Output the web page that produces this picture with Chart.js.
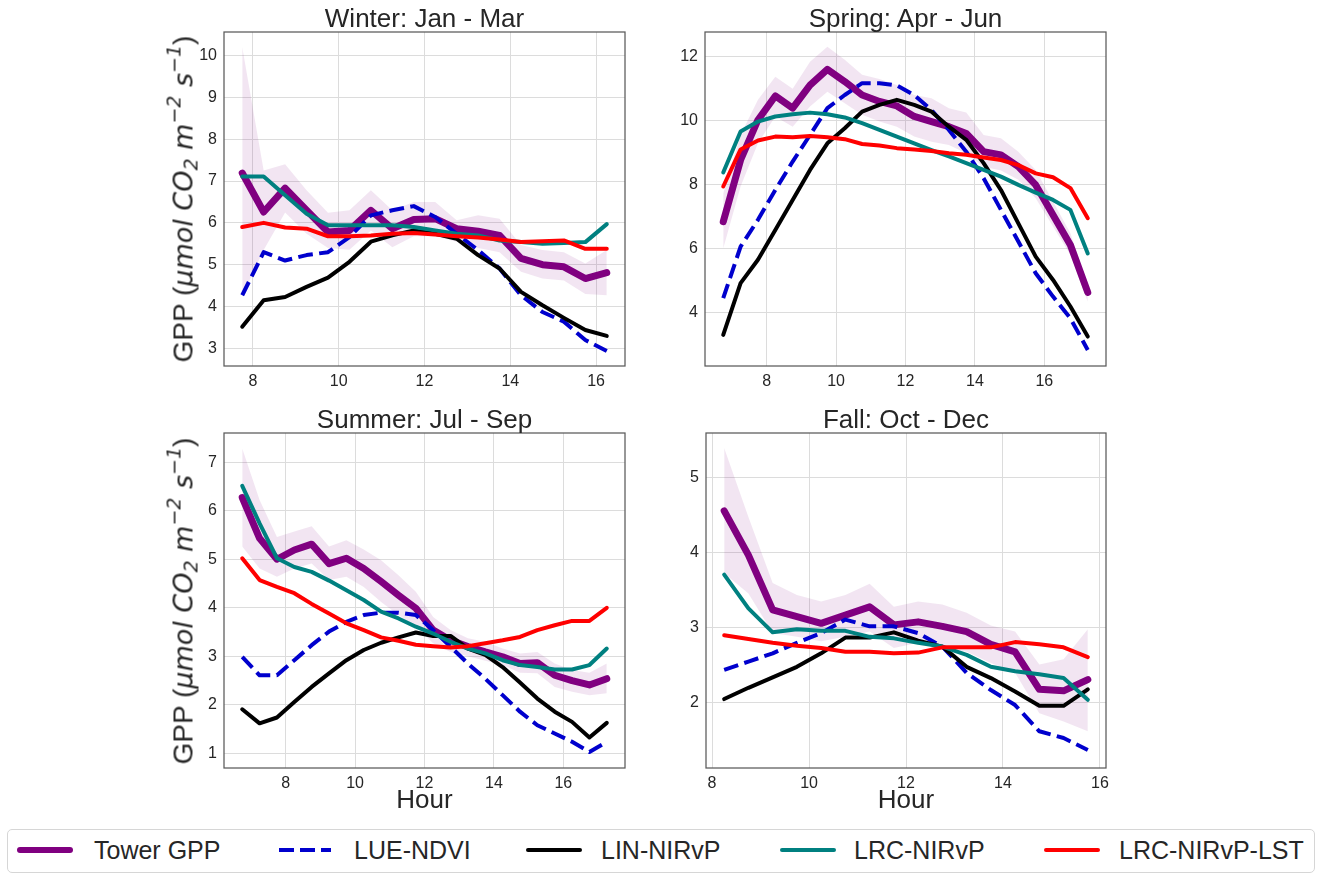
<!DOCTYPE html>
<html>
<head>
<meta charset="utf-8">
<title>Diurnal GPP by season</title>
<script src="https://cdn.jsdelivr.net/npm/chart.js@4.4.1/dist/chart.umd.min.js"></script>
<style>
  html, body { margin: 0; padding: 0; background: #fff; }
  #fig { position: relative; width: 1324px; height: 874px; overflow: hidden;
         font-family: "Liberation Sans", Arial, sans-serif; color: #262626; }
  canvas { position: absolute; }
  .ttl, .xlab { position: absolute; font-size: 26px; line-height: 26px; white-space: nowrap; transform: translateX(-50%); }
  .ylab { position: absolute; font-size: 28px; line-height: 28px; white-space: nowrap;
          transform: translate(-50%, -50%) rotate(-90deg); }
  .ylab i { font-family: "DejaVu Sans", sans-serif; font-style: oblique; font-size: 27px; }
  .ylab .sb { font-size: 19px; vertical-align: -5px; }
  .ylab .sp { font-size: 19px; vertical-align: 12px; }
  #legend { position: absolute; left: 7px; top: 829px; width: 1306px; height: 42px;
            border: 1px solid #d6d6d6; border-radius: 5px; }
  .swatch { position: absolute; }
  .ltxt { position: absolute; font-size: 25px; line-height: 25px; white-space: nowrap; }
</style>
</head>
<body>
<div id="fig">
  <div id="legend"></div>
</div>
<script>
// ---- data: hourly mean GPP per season ----
const seriesNames = ['Tower GPP', 'LUE-NDVI', 'LIN-NIRvP', 'LRC-NIRvP', 'LRC-NIRvP-LST'];

const winterHours = [7.75, 8.25, 8.75, 9.25, 9.75, 10.25, 10.75, 11.25, 11.75, 12.25, 12.75, 13.25, 13.75, 14.25, 14.75, 15.25, 15.75, 16.25];
const winterTower = [7.19, 6.26, 6.83, 6.3, 5.78, 5.82, 6.3, 5.86, 6.08, 6.1, 5.86, 5.8, 5.7, 5.15, 5.0, 4.95, 4.67, 4.81];
const winterUpper = [10.2, 7.25, 7.4, 6.78, 6.24, 6.3, 6.78, 6.3, 6.5, 6.5, 6.06, 6.18, 6.1, 5.47, 5.35, 5.3, 5.03, 5.35];
const winterLower = [4.25, 5.35, 6.25, 5.74, 5.4, 5.36, 5.82, 5.42, 5.68, 5.68, 5.55, 5.4, 5.3, 4.83, 4.67, 4.62, 4.3, 4.27];
const winterLue = [4.27, 5.3, 5.1, 5.23, 5.3, 5.66, 6.18, 6.3, 6.4, 6.14, 5.74, 5.35, 4.91, 4.27, 3.87, 3.64, 3.2, 2.94];
const winterLin = [3.52, 4.15, 4.23, 4.47, 4.69, 5.07, 5.55, 5.7, 5.82, 5.74, 5.62, 5.23, 4.91, 4.35, 4.03, 3.73, 3.44, 3.3];
const winterLrc = [7.11, 7.11, 6.66, 6.22, 5.94, 5.94, 5.94, 5.94, 5.9, 5.82, 5.74, 5.7, 5.58, 5.54, 5.5, 5.52, 5.54, 5.97];
const winterLst = [5.9, 6.0, 5.89, 5.86, 5.68, 5.68, 5.7, 5.74, 5.76, 5.72, 5.68, 5.65, 5.6, 5.54, 5.56, 5.58, 5.38, 5.38];

const springHours = [6.75, 7.25, 7.75, 8.25, 8.75, 9.25, 9.75, 10.25, 10.75, 11.25, 11.75, 12.25, 12.75, 13.25, 13.75, 14.25, 14.75, 15.25, 15.75, 16.25, 16.75, 17.25];
const springTower = [6.84, 8.77, 10.02, 10.77, 10.39, 11.11, 11.6, 11.22, 10.8, 10.6, 10.46, 10.13, 9.97, 9.81, 9.6, 9.03, 8.93, 8.56, 7.99, 7.05, 6.11, 4.63];
const springUpper = [7.73, 9.55, 10.65, 11.37, 11.0, 11.84, 12.31, 11.9, 11.43, 11.3, 11.11, 10.8, 10.7, 10.39, 10.25, 9.55, 9.45, 9.03, 8.46, 7.47, 6.48, 4.81];
const springLower = [6.0, 7.94, 9.29, 10.13, 9.81, 10.44, 10.9, 10.54, 10.18, 9.97, 9.81, 9.5, 9.34, 9.24, 8.98, 8.56, 8.44, 8.15, 7.57, 6.69, 5.8, 4.34];
const springLue = [4.45, 6.06, 6.9, 7.83, 8.72, 9.55, 10.39, 10.8, 11.17, 11.17, 11.1, 10.8, 10.33, 9.71, 9.03, 8.2, 7.21, 6.22, 5.23, 4.5, 3.82, 2.83];
const springLin = [3.3, 4.92, 5.65, 6.58, 7.52, 8.46, 9.29, 9.76, 10.28, 10.49, 10.65, 10.49, 10.28, 9.81, 9.4, 8.67, 7.83, 6.79, 5.75, 5.02, 4.19, 3.25];
const springLrc = [8.38, 9.66, 9.97, 10.13, 10.2, 10.25, 10.2, 10.1, 9.92, 9.71, 9.5, 9.29, 9.08, 8.88, 8.67, 8.46, 8.25, 7.99, 7.75, 7.52, 7.21, 5.85];
const springLst = [7.94, 9.1, 9.38, 9.5, 9.48, 9.52, 9.48, 9.42, 9.27, 9.22, 9.14, 9.1, 9.05, 8.98, 8.93, 8.85, 8.77, 8.61, 8.35, 8.23, 7.89, 6.95];

const summerHours = [6.75, 7.25, 7.75, 8.25, 8.75, 9.25, 9.75, 10.25, 10.75, 11.25, 11.75, 12.25, 12.75, 13.25, 13.75, 14.25, 14.75, 15.25, 15.75, 16.25, 16.75, 17.25];
const summerTower = [6.27, 5.43, 5.0, 5.19, 5.31, 4.91, 5.02, 4.81, 4.54, 4.26, 3.99, 3.54, 3.33, 3.2, 3.09, 2.99, 2.85, 2.87, 2.61, 2.5, 2.41, 2.54];
const summerUpper = [7.28, 6.22, 5.46, 5.57, 5.68, 5.26, 5.39, 5.2, 4.98, 4.67, 4.33, 3.81, 3.54, 3.37, 3.3, 3.16, 3.06, 3.09, 2.85, 2.72, 2.66, 2.85];
const summerLower = [5.26, 4.81, 4.64, 4.81, 4.91, 4.57, 4.64, 4.43, 4.12, 3.85, 3.61, 3.27, 3.09, 3.0, 2.91, 2.82, 2.66, 2.65, 2.37, 2.27, 2.2, 2.24];
const summerLue = [2.99, 2.61, 2.61, 2.92, 3.23, 3.51, 3.71, 3.85, 3.9, 3.9, 3.85, 3.54, 3.2, 2.85, 2.54, 2.2, 1.86, 1.58, 1.41, 1.24, 1.03, 1.24];
const summerLin = [1.91, 1.62, 1.74, 2.06, 2.37, 2.65, 2.92, 3.13, 3.28, 3.39, 3.49, 3.42, 3.42, 3.16, 3.03, 2.78, 2.46, 2.13, 1.86, 1.65, 1.33, 1.63];
const summerLrc = [6.51, 5.74, 5.02, 4.84, 4.74, 4.56, 4.36, 4.16, 3.92, 3.78, 3.61, 3.47, 3.3, 3.16, 3.06, 2.92, 2.82, 2.78, 2.73, 2.73, 2.82, 3.16];
const summerLst = [5.02, 4.57, 4.43, 4.3, 4.08, 3.88, 3.68, 3.54, 3.39, 3.32, 3.24, 3.21, 3.18, 3.21, 3.27, 3.33, 3.4, 3.54, 3.64, 3.73, 3.73, 4.0];

const fallHours = [8.25, 8.75, 9.25, 9.75, 10.25, 10.75, 11.25, 11.75, 12.25, 12.75, 13.25, 13.75, 14.25, 14.75, 15.25, 15.75];
const fallTower = [4.56, 3.97, 3.24, 3.15, 3.06, 3.17, 3.28, 3.04, 3.08, 3.02, 2.95, 2.78, 2.68, 2.18, 2.16, 2.31];
const fallUpper = [5.4, 4.48, 3.6, 3.44, 3.35, 3.44, 3.59, 3.28, 3.35, 3.31, 3.2, 3.03, 2.95, 2.51, 2.58, 2.98];
const fallLower = [3.73, 3.46, 2.93, 2.88, 2.82, 2.88, 2.95, 2.73, 2.8, 2.73, 2.68, 2.53, 2.4, 1.86, 1.75, 1.62];
const fallLue = [2.44, 2.55, 2.66, 2.8, 2.93, 3.11, 3.02, 3.02, 2.93, 2.75, 2.4, 2.17, 1.97, 1.62, 1.53, 1.37];
const fallLin = [2.05, 2.2, 2.34, 2.48, 2.66, 2.87, 2.87, 2.94, 2.83, 2.75, 2.48, 2.33, 2.15, 1.96, 1.96, 2.18];
const fallLrc = [3.71, 3.26, 2.94, 2.98, 2.96, 2.96, 2.88, 2.86, 2.8, 2.75, 2.64, 2.48, 2.42, 2.38, 2.33, 2.04];
const fallLst = [2.9, 2.85, 2.8, 2.76, 2.73, 2.68, 2.68, 2.66, 2.67, 2.74, 2.74, 2.74, 2.81, 2.78, 2.74, 2.61];

// tick values
const hourTicks = [8, 10, 12, 14, 16];
const winterYTicks = [3, 4, 5, 6, 7, 8, 9, 10];
const springYTicks = [4, 6, 8, 10, 12];
const summerYTicks = [1, 2, 3, 4, 5, 6, 7];
const fallYTicks = [2, 3, 4, 5];

// ---- styling ----
const lineStyles = [
  { color: '#800080', width: 7, dash: [] },
  { color: '#0000cd', width: 4, dash: [14.8, 6.4] },
  { color: '#000000', width: 4, dash: [] },
  { color: '#008080', width: 4, dash: [] },
  { color: '#ff0000', width: 4, dash: [] }
];
const bandColor = 'rgba(128, 0, 128, 0.1)';
const gridColor = '#dcdcdc';
const frameColor = '#5a5a5a';

Chart.defaults.font.family = '"Liberation Sans", Arial, sans-serif';
Chart.defaults.color = '#262626';

// plot-area boxes in page pixels
const panels = [
  { id: 'winter', title: 'Winter: Jan - Mar', box: [224, 32, 401, 334], x: [7.325, 16.675], y: [2.58, 10.56],
    yTicks: winterYTicks, hours: winterHours, band: [winterUpper, winterLower],
    series: [winterTower, winterLue, winterLin, winterLrc, winterLst], ylabel: true, xlabel: false },
  { id: 'spring', title: 'Spring: Apr - Jun', box: [705, 32, 401, 334], x: [6.225, 17.775], y: [2.33, 12.77],
    yTicks: springYTicks, hours: springHours, band: [springUpper, springLower],
    series: [springTower, springLue, springLin, springLrc, springLst], ylabel: false, xlabel: false },
  { id: 'summer', title: 'Summer: Jul - Sep', box: [224, 433, 401, 335], x: [6.225, 17.775], y: [0.7, 7.6],
    yTicks: summerYTicks, hours: summerHours, band: [summerUpper, summerLower],
    series: [summerTower, summerLue, summerLin, summerLrc, summerLst], ylabel: true, xlabel: true },
  { id: 'fall', title: 'Fall: Oct - Dec', box: [706, 433, 400, 335], x: [7.875, 16.125], y: [1.13, 5.6],
    yTicks: fallYTicks, hours: fallHours, band: [fallUpper, fallLower],
    series: [fallTower, fallLue, fallLin, fallLrc, fallLst], ylabel: false, xlabel: true }
];

const Y_AXIS_W = 44, X_AXIS_H = 30, PAD_T = 8, PAD_R = 14;

// dark frame round the plot area
const framePlugin = {
  id: 'frame',
  afterDraw(chart) {
    const a = chart.chartArea, ctx = chart.ctx;
    ctx.save();
    ctx.strokeStyle = frameColor;
    ctx.lineWidth = 1.25;
    ctx.strokeRect(a.left, a.top, a.right - a.left, a.bottom - a.top);
    ctx.restore();
  }
};

const fig = document.getElementById('fig');
const pts = (xs, ys) => xs.map((x, i) => ({ x: x, y: ys[i] }));

function addText(cls, html, left, top) {
  const d = document.createElement('div');
  d.className = cls;
  d.innerHTML = html;
  d.style.left = left + 'px';
  d.style.top = top + 'px';
  fig.appendChild(d);
}

panels.forEach(p => {
  const [left, top, w, h] = p.box;
  const cv = document.createElement('canvas');
  cv.width = w + Y_AXIS_W + PAD_R;
  cv.height = h + PAD_T + X_AXIS_H;
  cv.style.left = (left - Y_AXIS_W) + 'px';
  cv.style.top = (top - PAD_T) + 'px';
  fig.appendChild(cv);

  const datasets = [
    { data: pts(p.hours, p.band[0]), borderColor: 'rgba(0,0,0,0)', borderWidth: 0, pointRadius: 0,
      fill: '+1', backgroundColor: bandColor, order: 20 },
    { data: pts(p.hours, p.band[1]), borderColor: 'rgba(0,0,0,0)', borderWidth: 0, pointRadius: 0,
      fill: false, order: 19 }
  ];
  p.series.forEach((vals, i) => {
    const s = lineStyles[i];
    datasets.push({
      label: seriesNames[i], data: pts(p.hours, vals),
      borderColor: s.color, borderWidth: s.width, borderDash: s.dash,
      borderCapStyle: s.dash.length ? 'butt' : 'round', borderJoinStyle: 'round',
      pointRadius: 0, tension: 0, fill: false, order: 10 - i
    });
  });

  new Chart(cv, {
    type: 'line',
    data: { datasets: datasets },
    options: {
      responsive: false, animation: false, devicePixelRatio: 1,
      layout: { padding: { top: PAD_T, right: PAD_R, left: 0, bottom: 0 } },
      plugins: { legend: { display: false }, tooltip: { enabled: false } },
      scales: {
        x: {
          type: 'linear', min: p.x[0], max: p.x[1],
          afterBuildTicks: s => { s.ticks = hourTicks.map(v => ({ value: v })); },
          afterFit: s => { s.height = X_AXIS_H; s.paddingLeft = 0; s.paddingRight = 0; },
          grid: { color: gridColor, drawTicks: false },
          border: { display: false },
          ticks: { padding: 6, font: { size: 16 }, maxRotation: 0, autoSkip: false }
        },
        y: {
          type: 'linear', min: p.y[0], max: p.y[1],
          afterBuildTicks: s => { s.ticks = p.yTicks.map(v => ({ value: v })); },
          afterFit: s => { s.width = Y_AXIS_W; s.paddingTop = 0; s.paddingBottom = 0; },
          grid: { color: gridColor, drawTicks: false },
          border: { display: false },
          ticks: { padding: 7, font: { size: 16 }, autoSkip: false }
        }
      }
    },
    plugins: [framePlugin]
  });

  const cx = left + w / 2;
  addText('ttl', p.title, cx, top - 27);
  if (p.xlabel) addText('xlab', 'Hour', cx, 786);
  if (p.ylabel) {
    addText('ylab', 'GPP (<i>μmol CO<span class="sb">2</span> m<span class="sp">−2</span> s<span class="sp">−1</span></i>)',
      182, top + h / 2);
  }
});

// shared legend along the bottom
const legend = document.getElementById('legend');
const swatchX = [9, 271, 518, 772, 1036];
const textX = [86, 346, 593, 846, 1111];
seriesNames.forEach((name, i) => {
  const s = lineStyles[i];
  const sw = document.createElement('div');
  sw.className = 'swatch';
  sw.style.left = swatchX[i] + 'px';
  sw.style.width = (i === 1 ? 52 : 56) + 'px';
  sw.style.height = (i === 0 ? 6 : 4) + 'px';
  sw.style.top = (20 - (i === 0 ? 3 : 2)) + 'px';
  if (s.dash.length) {
    sw.style.background = 'repeating-linear-gradient(to right, ' + s.color + ' 0 15px, transparent 15px 21px)';
  } else {
    sw.style.background = s.color;
    sw.style.borderRadius = '3px';
  }
  legend.appendChild(sw);
  const t = document.createElement('div');
  t.className = 'ltxt';
  t.textContent = name;
  t.style.left = textX[i] + 'px';
  t.style.top = '8px';
  legend.appendChild(t);
});
</script>
</body>
</html>
